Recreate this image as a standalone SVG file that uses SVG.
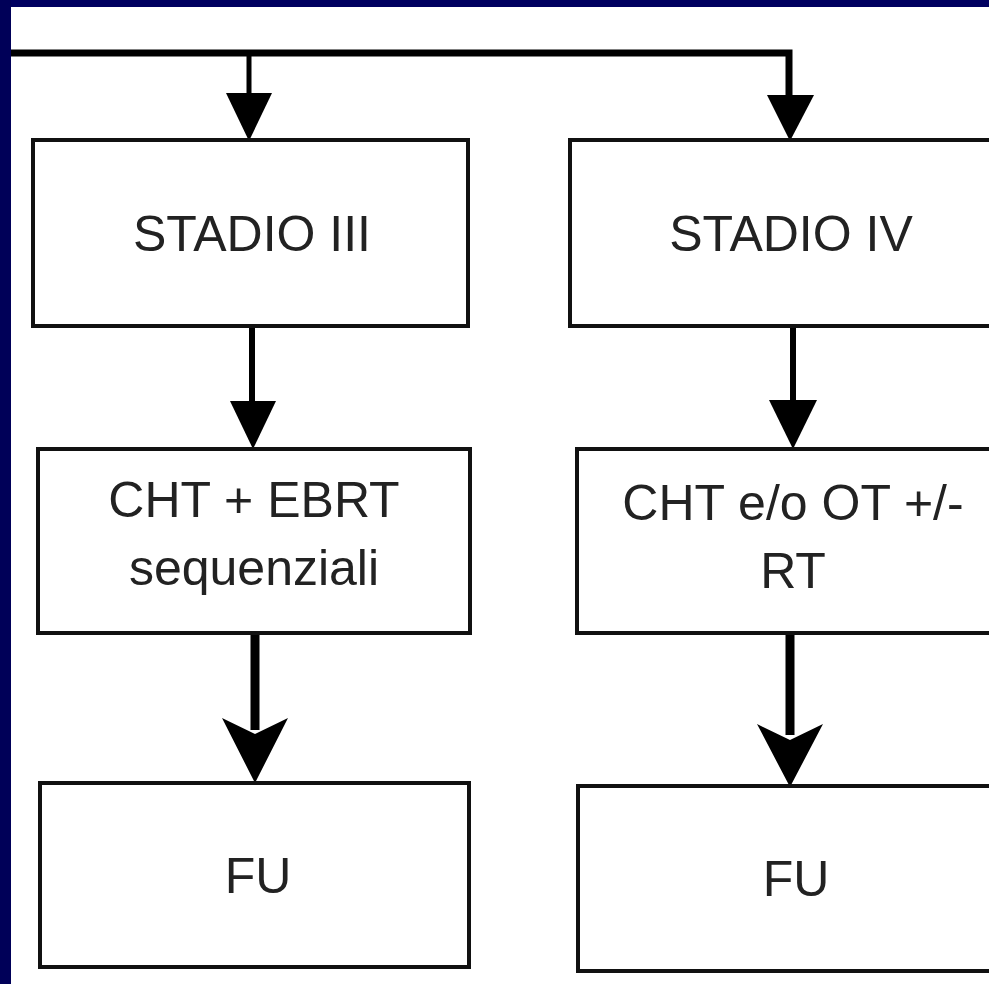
<svg xmlns="http://www.w3.org/2000/svg" width="989" height="984" viewBox="0 0 989 984">
<style>
.box{fill:#fff;stroke:#111;stroke-width:4}
.lbl{font-family:"Liberation Sans",Arial,sans-serif;font-size:50px;fill:#222;text-anchor:middle}
.ln{fill:none;stroke:#000;stroke-linecap:butt}
.hd{fill:#000;stroke:none}
</style>
<rect x="0" y="0" width="989" height="984" fill="#fff"/>
<rect x="0" y="0" width="989" height="7" fill="#000060"/>
<rect x="0" y="0" width="11" height="984" fill="#000058"/>
<g id="connectors">
<path class="ln" d="M11 53 H789 V96" stroke-width="7"/>
<path class="ln" d="M249 53 V95" stroke-width="5"/>
<polygon class="hd" points="226,93 272,93 249,141"/>
<polygon class="hd" points="767,95 814,95 790,141"/>
<path class="ln" d="M252 326 V403" stroke-width="6"/>
<polygon class="hd" points="230,401 276,401 253,449"/>
<path class="ln" d="M793 326 V402" stroke-width="6"/>
<polygon class="hd" points="769,400 817,400 793,449"/>
<path class="ln" d="M255 633 V730" stroke-width="9"/>
<polygon class="hd" points="222,718 255,734 288,718 255,783"/>
<path class="ln" d="M790 633 V735" stroke-width="9"/>
<polygon class="hd" points="757,724 790,740 823,724 790,787"/>
</g>
<g id="n1"><rect class="box" x="33" y="140" width="435" height="186"/><text class="lbl" x="252" y="251">STADIO III</text></g>
<g id="n2"><rect class="box" x="570" y="140" width="440" height="186"/><text class="lbl" x="791" y="251">STADIO IV</text></g>
<g id="n3"><rect class="box" x="38" y="449" width="432" height="184"/><text class="lbl" x="254" y="517">CHT + EBRT</text><text class="lbl" x="254" y="585">sequenziali</text></g>
<g id="n4"><rect class="box" x="577" y="449" width="440" height="184"/><text class="lbl" x="793" y="520">CHT e/o OT +/-</text><text class="lbl" x="793" y="588">RT</text></g>
<g id="n5"><rect class="box" x="40" y="783" width="429" height="184"/><text class="lbl" x="258" y="893">FU</text></g>
<g id="n6"><rect class="box" x="578" y="786" width="440" height="185"/><text class="lbl" x="796" y="896">FU</text></g>
</svg>
